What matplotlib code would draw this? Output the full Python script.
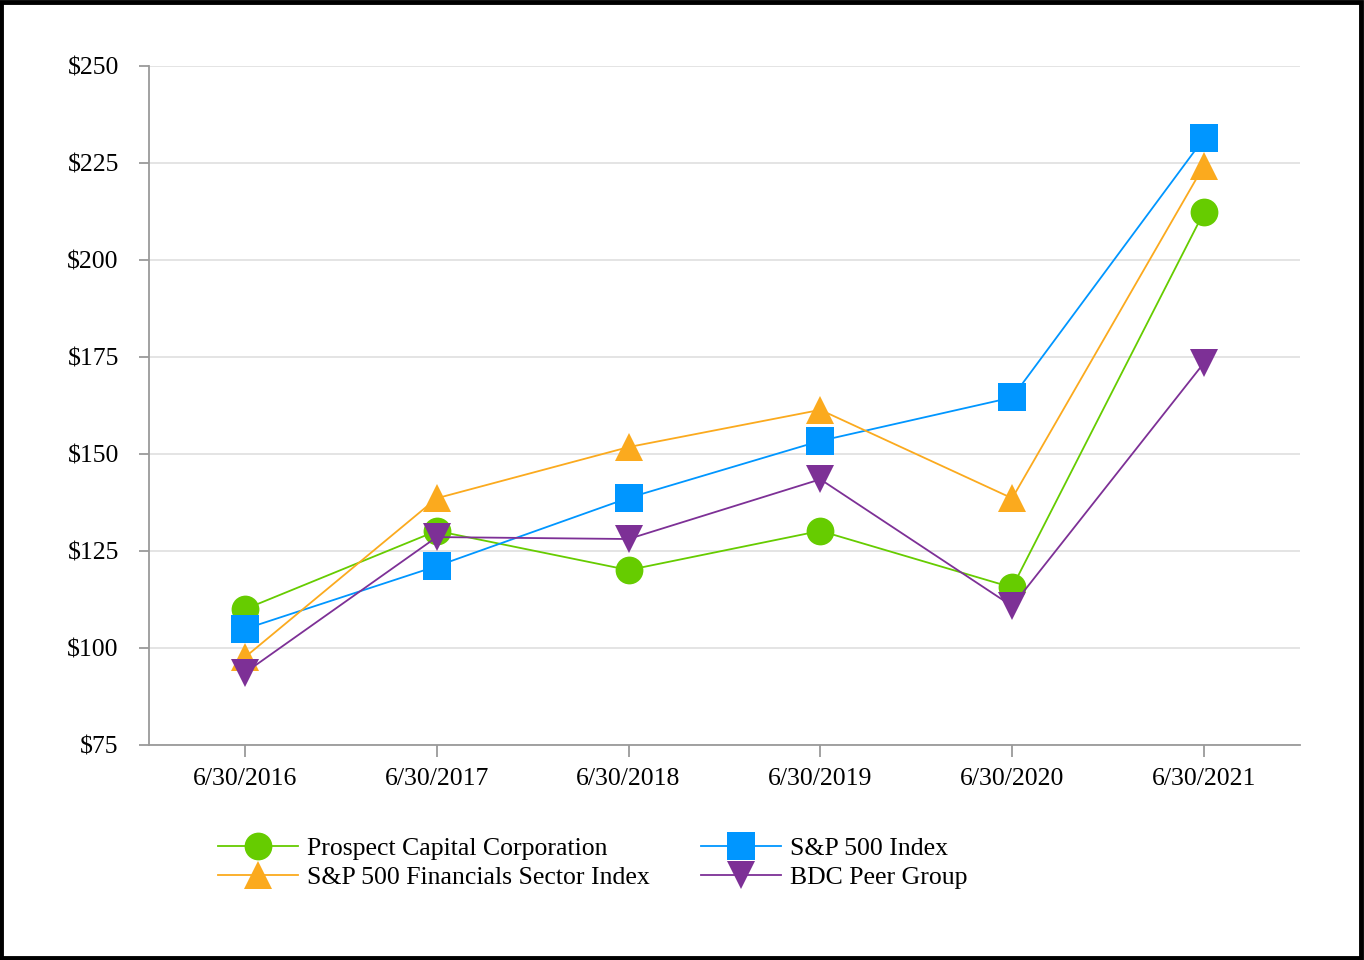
#!/usr/bin/env python
# -*- coding: utf-8 -*-
"""Cumulative total return comparison, 6/30/2016 - 6/30/2021."""

import matplotlib
matplotlib.use('Agg')
import matplotlib.pyplot as plt
from matplotlib.patches import Rectangle

plt.rcParams['font.family'] = ['Liberation Serif', 'DejaVu Serif']
plt.rcParams['font.size'] = 18.5

# Dados
dates = ['6/30/2016', '6/30/2017', '6/30/2018', '6/30/2019', '6/30/2020', '6/30/2021']
prospect = [110.0, 130.2, 120.1, 130.2, 115.6, 212.4]
sp500 = [104.9, 121.1, 138.7, 153.4, 164.6, 231.4]
financials = [97.6, 138.6, 151.8, 161.4, 138.6, 224.4]
bdc_peer = [93.6, 128.6, 128.1, 143.5, 110.8, 173.5]

y_ticks = [75, 100, 125, 150, 175, 200, 225, 250]

series = [
    ('Prospect Capital Corporation', prospect, '#66CC00', 'o'),
    ('S&P 500 Index', sp500, '#0096FF', 's'),
    ('S&P 500 Financials Sector Index', financials, '#FBAA1E', '^'),
    ('BDC Peer Group', bdc_peer, '#7D3096', 'v'),
]

fig = plt.figure(figsize=(13.64, 9.6), dpi=100)
ax = fig.add_axes([0.1092, 0.224, 0.8438, 0.707])

x = list(range(len(dates)))
handles = {}
for label, vals, color, marker in series:
    h, = ax.plot(x, vals, color=color, linewidth=1.3, marker=marker,
                 markersize=20, markeredgewidth=0, label=label)
    handles[label] = h

ax.set_xlim(-0.5, 5.5)
ax.set_ylim(75, 250)
ax.set_xticks(x)
ax.set_xticklabels(dates)
ax.set_yticks(y_ticks)
ax.set_yticklabels([f'${v}' for v in y_ticks])

ax.grid(axis='y', color='#e4e4e4', linewidth=1.4)
ax.set_axisbelow(True)
for side in ['top', 'right']:
    ax.spines[side].set_visible(False)
for side in ['left', 'bottom']:
    ax.spines[side].set_color('#9a9a9a')
    ax.spines[side].set_linewidth(1.3)
ax.tick_params(axis='y', length=7.2, width=1.3, color='#9a9a9a', pad=14.5)
ax.tick_params(axis='x', length=8.5, width=1.3, color='#9a9a9a', pad=8)

# Legenda (duas colunas, preenchidas por linha)
order = ['Prospect Capital Corporation', 'S&P 500 Financials Sector Index',
         'S&P 500 Index', 'BDC Peer Group']
ax.legend([handles[k] for k in order], order, ncol=2, frameon=False,
          loc='upper left', bbox_to_anchor=(0.040, -0.101),
          handlelength=3.1, handletextpad=0.35, columnspacing=2.0,
          labelspacing=0.25, fontsize=18.5, markerscale=1.0)

# Moldura preta
fig.patches.append(Rectangle((0.001, 0.002), 0.997, 0.996, transform=fig.transFigure,
                             fill=False, edgecolor='black', linewidth=3.5))

fig.savefig('out.png', dpi=100, facecolor='white')
